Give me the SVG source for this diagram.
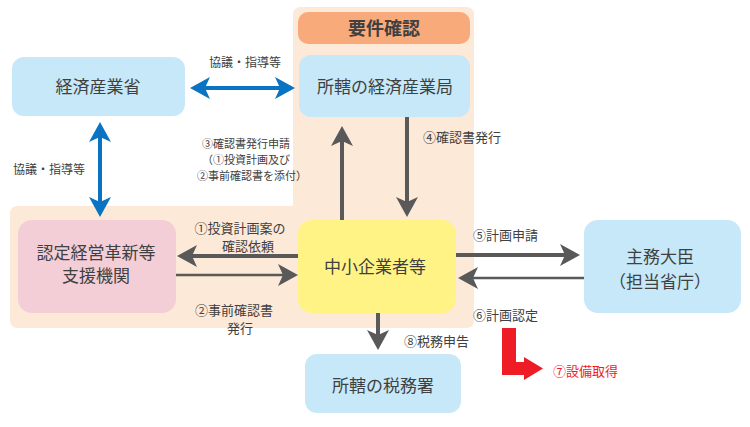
<svg xmlns="http://www.w3.org/2000/svg" width="750" height="427" viewBox="0 0 750 427">
<style>
text{font-family:"Noto Sans CJK JP","Noto Sans",sans-serif;fill:#404040}
.big{font-size:17px}
.lbl{font-size:13px}
.sm{font-size:12px}
.xs{font-size:11px}
.mid{text-anchor:middle}
.blue{fill:#C6E8F8}
.gline{stroke:#595959;fill:none}
.bline{stroke:#0A74C2;stroke-width:4;fill:none}
</style>
<defs>
<marker id="ag" markerUnits="userSpaceOnUse" markerWidth="20" markerHeight="22" viewBox="0 0 20 22" refX="8" refY="11" orient="auto-start-reverse">
<path d="M0,0 L20,11 L0,22 L5,11 Z" fill="#595959"/>
</marker>
<marker id="ab" markerUnits="userSpaceOnUse" markerWidth="20" markerHeight="22" viewBox="0 0 20 22" refX="8" refY="11" orient="auto-start-reverse">
<path d="M0,0 L20,11 L0,22 L5,11 Z" fill="#0A74C2"/>
</marker>
</defs>
<rect width="750" height="427" fill="#fff"/>
<path id="area" d="M301,7 H466 Q474,7 474,15 V320 Q474,328 466,328 H18 Q10,328 10,320 V214 Q10,206 18,206 H293 V15 Q293,7 301,7 Z" fill="#FDE9D8"/>

<g id="youken">
<rect x="298" y="12" width="172" height="32" rx="10" fill="#F9AA7A"/>
<text x="384" y="35" class="mid" style="font-size:18px;font-weight:bold">要件確認</text>
</g>
<g id="meti">
<rect x="12" y="57" width="173" height="59" rx="12" class="blue"/>
<text x="98" y="93" class="big mid">経済産業省</text>
</g>
<g id="bureau">
<rect x="299" y="55" width="171" height="62" rx="12" class="blue"/>
<text x="385" y="93" class="big mid">所轄の経済産業局</text>
</g>
<g id="support">
<rect x="18" y="220" width="158" height="93" rx="14" fill="#F3CED7"/>
<text x="96" y="259" class="big mid">認定経営革新等</text>
<text x="96" y="282" class="big mid">支援機関</text>
</g>
<g id="sme">
<rect x="298" y="220" width="158" height="93" rx="14" fill="#FFF385"/>
<text x="375" y="273" class="big mid">中小企業者等</text>
</g>
<g id="minister">
<rect x="584" y="220" width="157" height="93" rx="14" class="blue"/>
<text x="660" y="263" class="big mid">主務大臣</text>
<text x="660" y="288" class="big mid">（担当省庁）</text>
</g>
<g id="tax">
<rect x="305" y="354" width="156" height="59" rx="12" class="blue"/>
<text x="383" y="392" class="big mid">所轄の税務署</text>
</g>

<g id="connectors">
<line x1="202" y1="88" x2="283" y2="88" class="bline" marker-start="url(#ab)" marker-end="url(#ab)"/>
<line x1="100" y1="134" x2="100" y2="205" class="bline" marker-start="url(#ab)" marker-end="url(#ab)"/>
<line x1="342" y1="220" x2="342" y2="138" class="gline" stroke-width="4" marker-end="url(#ag)"/>
<line x1="407" y1="117" x2="407" y2="205" class="gline" stroke-width="4" marker-end="url(#ag)"/>
<line x1="298" y1="256" x2="189" y2="256" class="gline" stroke-width="4" marker-end="url(#ag)"/>
<line x1="176" y1="275" x2="286" y2="275" class="gline" stroke-width="2.5" marker-end="url(#ag)"/>
<line x1="456" y1="255" x2="568" y2="255" class="gline" stroke-width="4" marker-end="url(#ag)"/>
<line x1="584" y1="278" x2="470" y2="278" class="gline" stroke-width="2.5" marker-end="url(#ag)"/>
<line x1="378" y1="313" x2="378" y2="338" class="gline" stroke-width="4" marker-end="url(#ag)"/>
<path d="M502,328 H516 V362 H524 V357 L543,368.5 L524,380 V375 H502 Z" fill="#EE1C25"/>
</g>

<g id="labels">
<text x="245" y="67" class="sm mid">協議・指導等</text>
<text x="49" y="174" class="sm mid">協議・指導等</text>
<text x="202" y="148" class="xs">③確認書発行申請</text>
<text x="202" y="164" class="xs">（①投資計画及び</text>
<text x="197" y="180" class="xs">②事前確認書を添付）</text>
<text x="423" y="142" class="lbl">④確認書発行</text>
<text x="240" y="233" class="lbl mid">①投資計画案の</text>
<text x="248" y="251" class="lbl mid">確認依頼</text>
<text x="234" y="315" class="lbl mid">②事前確認書</text>
<text x="240" y="333" class="lbl mid">発行</text>
<text x="473" y="240" class="lbl">⑤計画申請</text>
<text x="473" y="320" class="lbl">⑥計画認定</text>
<text x="404" y="346" class="lbl">⑧税務申告</text>
<text x="553" y="376" class="lbl" style="fill:#EE1C25">⑦設備取得</text>
</g>
</svg>
